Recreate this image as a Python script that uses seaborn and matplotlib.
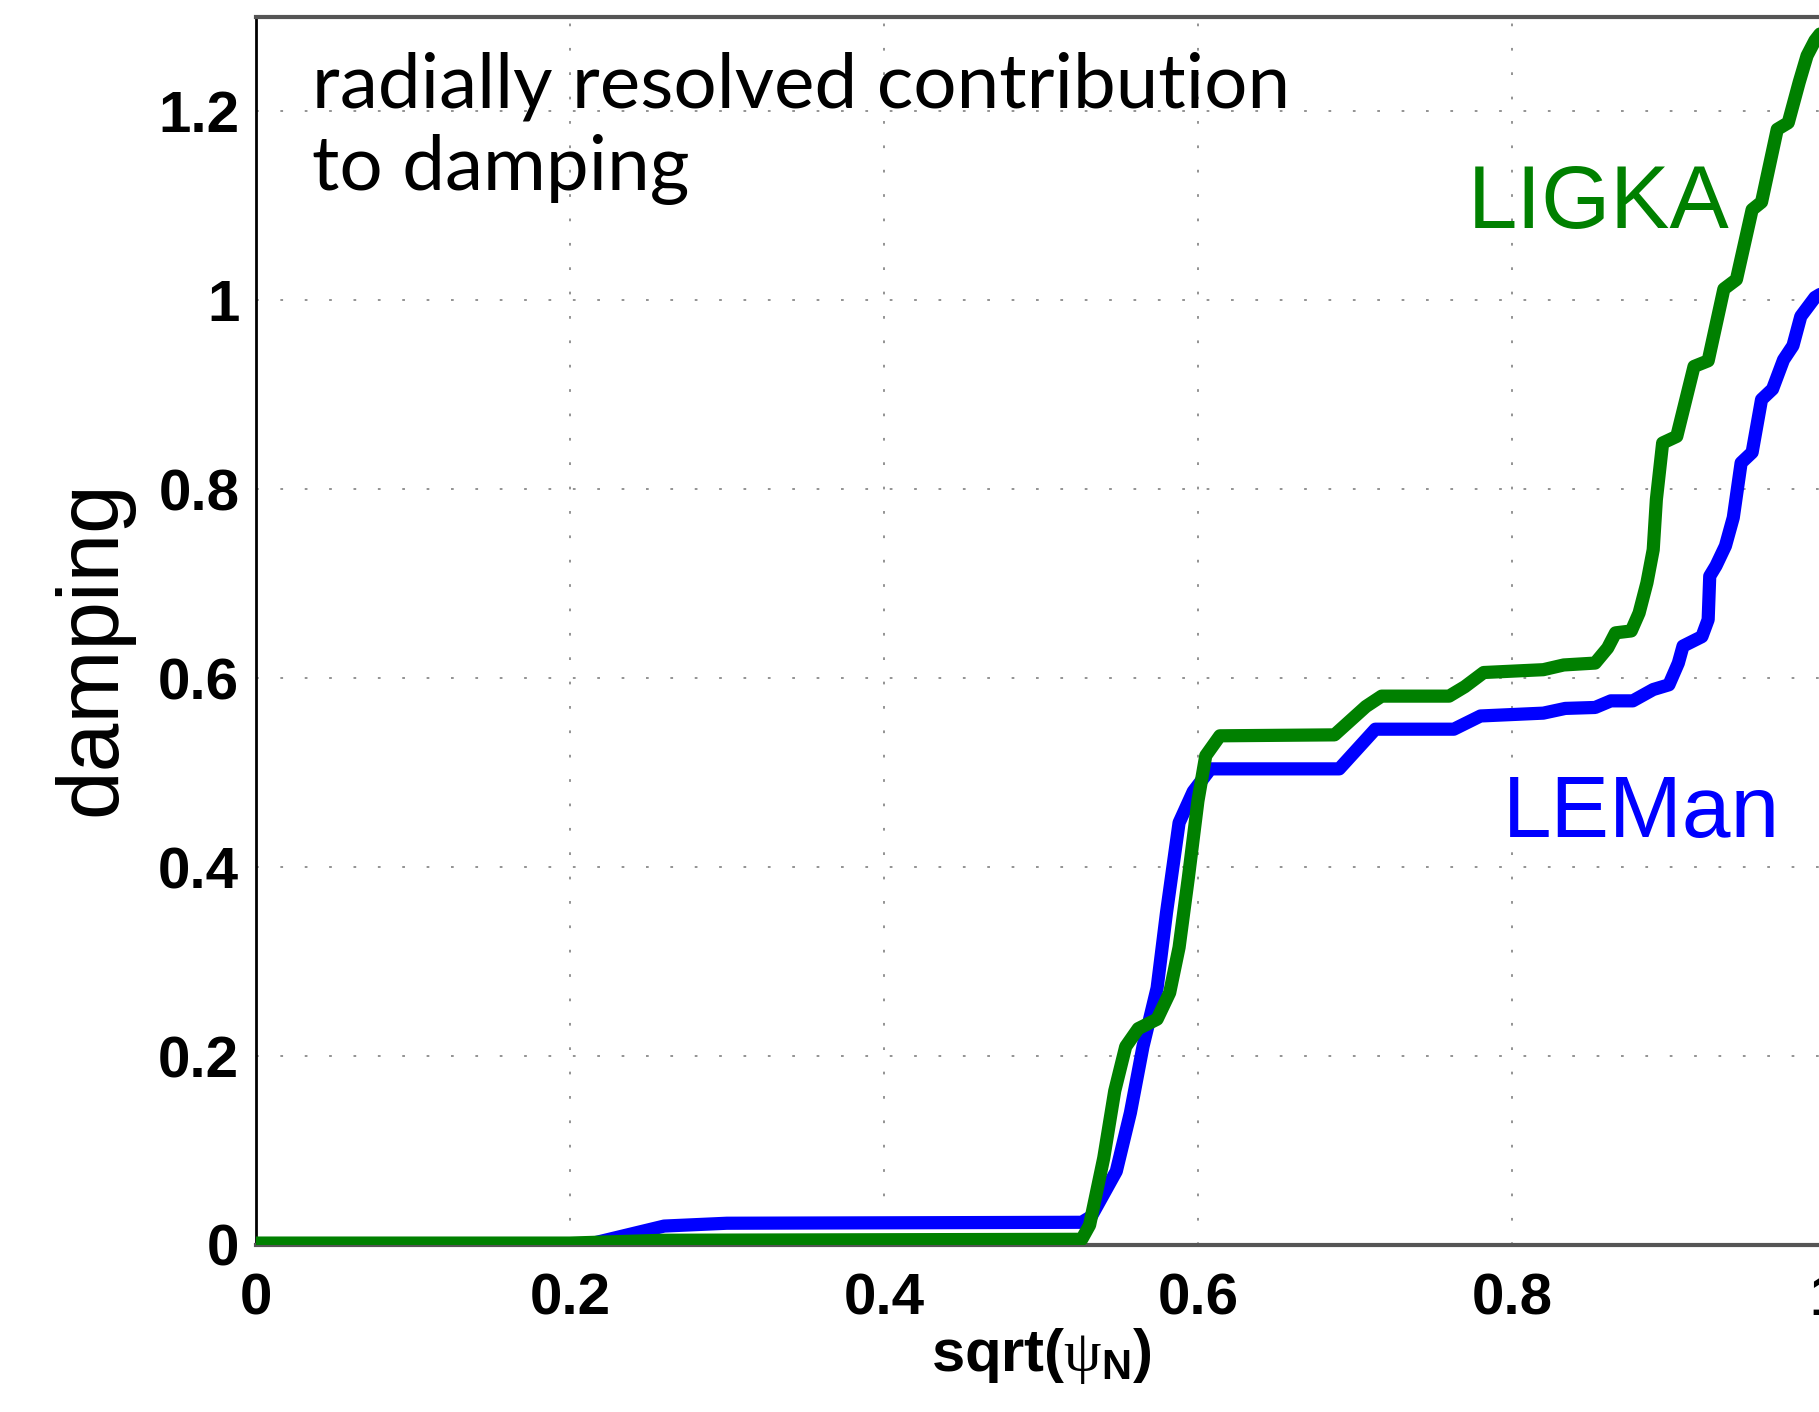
import numpy as np
import pandas as pd
import matplotlib
matplotlib.use("Agg")
import matplotlib.pyplot as plt
import seaborn as sns

# ---- data ----
x_leman = [0, 0.21, 0.26, 0.30, 0.526, 0.532, 0.548, 0.557, 0.565, 0.574, 0.580, 0.588,
           0.597, 0.608, 0.690, 0.713, 0.763, 0.780, 0.820, 0.834, 0.853, 0.863, 0.877,
           0.890, 0.900, 0.906, 0.909, 0.921, 0.925, 0.926, 0.930, 0.936, 0.941, 0.946,
           0.953, 0.959, 0.966, 0.973, 0.979, 0.984, 0.993, 1.0]
y_leman = [0, 0, 0.020, 0.023, 0.024, 0.030, 0.078, 0.140, 0.210, 0.272, 0.352, 0.447,
           0.480, 0.504, 0.504, 0.546, 0.546, 0.560, 0.563, 0.568, 0.569, 0.576, 0.576,
           0.588, 0.593, 0.616, 0.634, 0.644, 0.662, 0.708, 0.719, 0.740, 0.770, 0.828,
           0.839, 0.895, 0.906, 0.937, 0.952, 0.983, 1.003, 1.010]

x_ligka = [0, 0.20, 0.26, 0.526, 0.531, 0.540, 0.547, 0.554, 0.562, 0.574, 0.582, 0.588,
           0.594, 0.600, 0.605, 0.614, 0.687, 0.693, 0.707, 0.717, 0.760, 0.770, 0.782,
           0.820, 0.833, 0.853, 0.861, 0.866, 0.876, 0.881, 0.886, 0.890, 0.892, 0.896,
           0.905, 0.916, 0.925, 0.935, 0.943, 0.953, 0.959, 0.969, 0.976, 0.983, 0.988,
           0.993, 1.0]
y_ligka = [0.002, 0.002, 0.005, 0.006, 0.021, 0.092, 0.163, 0.210, 0.229, 0.239, 0.267, 0.315,
           0.390, 0.470, 0.518, 0.539, 0.540, 0.549, 0.570, 0.581, 0.581, 0.591, 0.606,
           0.609, 0.614, 0.616, 0.632, 0.648, 0.650, 0.669, 0.701, 0.736, 0.789, 0.849,
           0.856, 0.930, 0.936, 1.012, 1.022, 1.096, 1.104, 1.181, 1.188, 1.231, 1.259,
           1.275, 1.290]

x_ticks = [0, 0.2, 0.4, 0.6, 0.8, 1.0]
x_ticklabels = ["0", "0.2", "0.4", "0.6", "0.8", "1"]
y_ticks = [0, 0.2, 0.4, 0.6, 0.8, 1.0, 1.2]
y_ticklabels = ["0", "0.2", "0.4", "0.6", "0.8", "1", "1.2"]

series_names = ["LEMan", "LIGKA"]
series_colors = ["#0000ff", "#008000"]

df = pd.concat([
    pd.DataFrame({"x": x_leman, "y": y_leman, "code": "LEMan"}),
    pd.DataFrame({"x": x_ligka, "y": y_ligka, "code": "LIGKA"}),
], ignore_index=True)

sns.set_style("white")
plt.rcParams["font.family"] = ["Liberation Sans", "DejaVu Sans"]
plt.rcParams["text.color"] = "black"
plt.rcParams["axes.labelcolor"] = "black"
plt.rcParams["xtick.labelcolor"] = "black"
plt.rcParams["ytick.labelcolor"] = "black"
plt.rcParams["mathtext.fontset"] = "custom"
plt.rcParams["mathtext.rm"] = "Liberation Sans"
plt.rcParams["mathtext.bf"] = "Liberation Sans:bold"
plt.rcParams["mathtext.it"] = "Liberation Serif"

fig = plt.figure(figsize=(18.19, 14.12), dpi=100)
ax = fig.add_axes([0.1407, 0.1183, 0.8631, 0.8697])

for name, col in zip(series_names, series_colors):
    sub = df[df["code"] == name]
    sns.lineplot(data=sub, x="x", y="y", color=col, linewidth=9.5, ax=ax,
                 estimator=None, sort=False, legend=False, zorder=3)

ax.set_xlim(0, 1)
ax.set_ylim(0, 1.3)
ax.set_xticks(x_ticks)
ax.set_xticklabels(x_ticklabels, fontsize=42, fontweight="bold")
ax.set_yticks(y_ticks)
ax.set_yticklabels(y_ticklabels, fontsize=42, fontweight="bold")
ax.tick_params(axis="x", direction="in", length=15, width=2, color="#666666",
               labelcolor="black", pad=20)
ax.tick_params(axis="y", direction="in", length=15, width=2, color="#666666",
               labelcolor="black", pad=12)

ax.grid(True, color="#8a8a8a", linewidth=1.3, linestyle=(0, (1.5, 12)))
ax.set_axisbelow(True)

ax.spines["left"].set_color("black")
ax.spines["left"].set_linewidth(2)
for s in ["top", "bottom", "right"]:
    ax.spines[s].set_color("#555555")
    ax.spines[s].set_linewidth(3)

ax.set_xlabel(r"sqrt($\psi_{\mathbf{N}}$)", fontsize=43, fontweight="bold", color="black")
ax.xaxis.set_label_coords(0.5, -0.066)
ax.xaxis.label.set_va("top")
ax.set_ylabel("damping", fontsize=63, color="black")
ax.yaxis.set_label_coords(-0.078, 0.486)

ax.text(0.772, 1.077, "LIGKA", color="#008000", fontsize=64, ha="left", va="baseline")
ax.text(0.794, 0.432, "LEMan", color="#0000ff", fontsize=63, ha="left", va="baseline")

ax.text(0.036, 0.926, "radially resolved contribution", transform=ax.transAxes,
        fontsize=55, family=["Lato", "DejaVu Sans"], ha="left", va="baseline", color="black")
ax.text(0.036, 0.859, "to damping", transform=ax.transAxes,
        fontsize=55, family=["Lato", "DejaVu Sans"], ha="left", va="baseline", color="black")

fig.savefig("out.png", dpi=100)
